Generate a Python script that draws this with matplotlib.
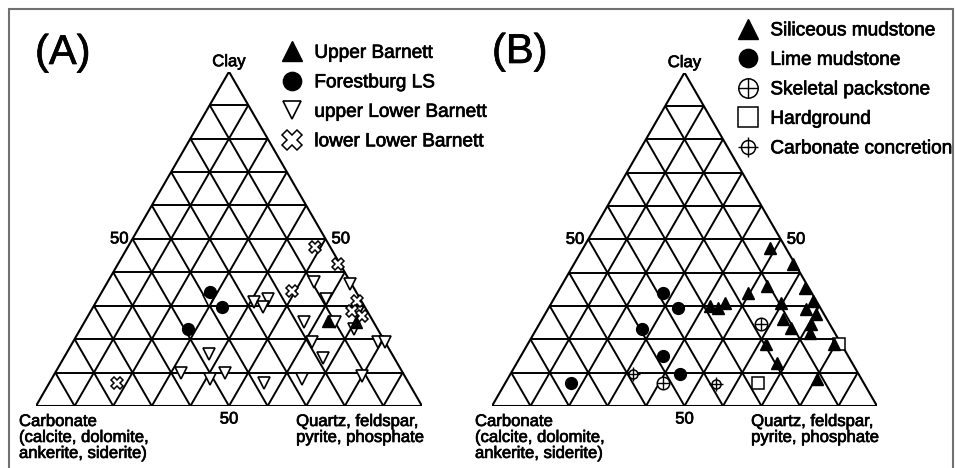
import numpy as np
import matplotlib.pyplot as plt
import matplotlib.patheffects as pe
from matplotlib.legend_handler import HandlerTuple
from matplotlib.patches import Rectangle
from matplotlib.text import Text

plt.rcParams['font.family'] = ['Liberation Sans', 'DejaVu Sans']

# compositions in percent: carbonate, clay, quartz+feldspar+pyrite+phosphate
# --- panel A ---
ub_carb = [11.5, 4.5]
ub_clay = [25.5, 25]
ub_qtz = [63, 70.5]

fls_carb = [38, 37, 49]
fls_clay = [34, 29.5, 23]
fls_qtz = [28, 33.5, 28]

ulb_carb = [39.5, 28, 24, 26.5, 9.5, 0.5, 9, 18, 10, 6, 19, 18.5, 2, 0,
            47.5, 57.5, 51, 46, 37.5, 27, 11]
ulb_clay = [31.5, 31, 32, 29.5, 37, 36.5, 32, 25, 25, 23, 19, 14.5, 19, 19,
            15.5, 10, 8, 10, 7, 8, 9]
ulb_qtz = [29, 41, 44, 44, 53.5, 63, 59, 57, 65, 71, 62, 67, 79, 81,
           37, 32.5, 41, 44, 55.5, 65, 80]

llb_carb = [4, 0.5, 16.5, 1, 4, 2, 75.5]
llb_clay = [47.5, 42.5, 34.5, 31.5, 28.5, 27, 7]
llb_qtz = [48.5, 57, 49, 67.5, 67.5, 71, 17.5]

# --- panel B ---
sm_carb = [4, 0.5, 10.5, 16.5, 1, 28.5, 26.5, 24, 9.5, 1, 4, 2, 11.5, 10.5,
           5, 6.5, 19.5, 2, 19.5, 11.5]
sm_clay = [47.5, 42.5, 36, 34, 35.5, 30, 29.5, 31, 31, 31.5, 29, 27.5, 26,
           23.5, 24.5, 22, 18.5, 18.5, 13, 8]
sm_qtz = [48.5, 57, 53.5, 49.5, 63.5, 41.5, 44, 45, 59.5, 67.5, 67, 70.5,
          62.5, 66, 70.5, 71.5, 62, 79.5, 67.5, 80.5]

lm_carb = [38.5, 37, 49.5, 48, 46.5, 76]
lm_clay = [34, 29.5, 23, 15, 9.5, 7]
lm_qtz = [27.5, 33.5, 27.5, 37, 44, 17]

sp_carb = [18, 52]
sp_clay = [24.5, 7]
sp_qtz = [57.5, 41]

hg_carb = [27.5, 0.5]
hg_clay = [7, 18.5]
hg_qtz = [65.5, 81]

cc_carb = [58.5, 38.5]
cc_clay = [9.5, 6.5]
cc_qtz = [32, 55]

H = np.sqrt(3) / 2
FW, FH = 955, 468


def tern(carb, clay, qtz):
    carb, clay, qtz = (np.asarray(v, float) for v in (carb, clay, qtz))
    tot = carb + clay + qtz
    return (qtz + clay / 2) / tot, clay / tot * H


def ternary_axes(fig, left_px, width_px):
    ax = fig.add_axes([left_px / FW, 62 / FH, width_px / FW, width_px * H / FH])
    ax.set_xlim(0, 1)
    ax.set_ylim(0, H)
    ax.axis('off')
    kw = dict(color='black', lw=1.4, solid_capstyle='butt', zorder=1)
    for k in range(1, 10):
        f = k / 10
        ax.plot([f / 2, 1 - f / 2], [f * H, f * H], **kw)
        ax.plot([f, f + (1 - f) / 2], [0, (1 - f) * H], **kw)
        ax.plot([1 - f, (1 - f) / 2], [0, (1 - f) * H], **kw)
    ax.plot([0, 1, 0.5, 0], [0, 0, H, 0], color='black', lw=1.5,
            solid_joinstyle='miter', zorder=1)

    fs = 12
    ax.annotate('Clay', (0.5, H), xytext=(0, 10), textcoords='offset pixels',
                ha='center', va='center', fontsize=fs)
    ax.annotate('50', (0.25, H / 2), xytext=(-4, 0), textcoords='offset pixels',
                ha='right', va='center', fontsize=fs)
    ax.annotate('50', (0.75, H / 2), xytext=(6, 0), textcoords='offset pixels',
                ha='left', va='center', fontsize=fs)
    ax.annotate('50', (0.5, 0), xytext=(0, -13), textcoords='offset pixels',
                ha='center', va='center', fontsize=fs)
    ax.annotate('Carbonate\n(calcite, dolomite,\nankerite, siderite)', (0, 0),
                xytext=(-17, -8), textcoords='offset pixels', ha='left',
                va='top', fontsize=fs, linespacing=1.08)
    ax.annotate('Quartz, feldspar,\npyrite, phosphate', (1, 0),
                xytext=(2, -8), textcoords='offset pixels', ha='right',
                va='top', multialignment='left', fontsize=fs, linespacing=1.08)
    return ax


fig = plt.figure(figsize=(FW / 100, FH / 100), dpi=100)
fig.add_artist(Rectangle((9 / FW, -0.05), 944 / FW, 1.05 - 9 / FH,
                         transform=fig.transFigure, fill=False,
                         edgecolor='#707070', lw=1.5))

# ---------------- panel A ----------------
axA = ternary_axes(fig, 36, 386)
h_ulb, = axA.plot(*tern(ulb_carb, ulb_clay, ulb_qtz), 'v', ms=8.5, mfc='white',
                  mec='black', mew=1.2, ls='none', zorder=3)
h_llb, = axA.plot(*tern(llb_carb, llb_clay, llb_qtz), 'X', ms=9, mfc='white',
                  mec='black', mew=1.1, ls='none', zorder=3)
h_fls, = axA.plot(*tern(fls_carb, fls_clay, fls_qtz), 'o', ms=8.5,
                  color='black', ls='none', zorder=4)
h_ub, = axA.plot(*tern(ub_carb, ub_clay, ub_qtz), '^', ms=9, color='black',
                 ls='none', zorder=4)

leg_kw = dict(loc='upper left', frameon=False, fontsize=13.7, borderpad=0,
              borderaxespad=0, handlelength=1.0, handletextpad=0.7,
              labelspacing=0.64, markerscale=1.55,
              handler_map={tuple: HandlerTuple(ndivide=1, pad=0)})
fig.legend([h_ub, h_fls, h_ulb, h_llb],
           ['Upper Barnett', 'Forestburg LS', 'upper Lower Barnett',
            'lower Lower Barnett'],
           bbox_to_anchor=(282 / FW, 1 - 44.5 / FH), **leg_kw)
fig.text(35 / FW, 1 - 53 / FH, '(A)', fontsize=30, ha='left', va='center')

# ---------------- panel B ----------------
axB = ternary_axes(fig, 492, 385)
h_sp1, = axB.plot(*tern(sp_carb, sp_clay, sp_qtz), 'o', ms=9, mfc='white',
                  mec='black', mew=1.1, ls='none', zorder=3)
h_sp2, = axB.plot(*tern(sp_carb, sp_clay, sp_qtz), '+', ms=9, color='black',
                  mew=1.0, ls='none', zorder=3)
h_cc1, = axB.plot(*tern(cc_carb, cc_clay, cc_qtz), 'o', ms=6.5, mfc='white',
                  mec='black', mew=1.1, ls='none', zorder=3)
h_cc2, = axB.plot(*tern(cc_carb, cc_clay, cc_qtz), '+', ms=9.5, color='black',
                  mew=1.0, ls='none', zorder=3)
h_hg, = axB.plot(*tern(hg_carb, hg_clay, hg_qtz), 's', ms=9, mfc='white',
                 mec='black', mew=1.1, ls='none', zorder=3)
h_lm, = axB.plot(*tern(lm_carb, lm_clay, lm_qtz), 'o', ms=8.5, color='black',
                 ls='none', zorder=4)
h_sm, = axB.plot(*tern(sm_carb, sm_clay, sm_qtz), '^', ms=9, color='black',
                 ls='none', zorder=4)

fig.legend([h_sm, h_lm, (h_sp1, h_sp2), h_hg, (h_cc1, h_cc2)],
           ['Siliceous mudstone', 'Lime mudstone', 'Skeletal packstone',
            'Hardground', 'Carbonate concretion'],
           bbox_to_anchor=(738 / FW, 1 - 22 / FH), **leg_kw)
fig.text(492 / FW, 1 - 52 / FH, '(B)', fontsize=30, ha='left', va='center')

# the scanned labels look a little heavier than plain Liberation Sans
for t in fig.findobj(Text):
    t.set_path_effects([pe.withStroke(linewidth=0.5, foreground='black')])

fig.savefig('out.png', dpi=100, facecolor='white')
